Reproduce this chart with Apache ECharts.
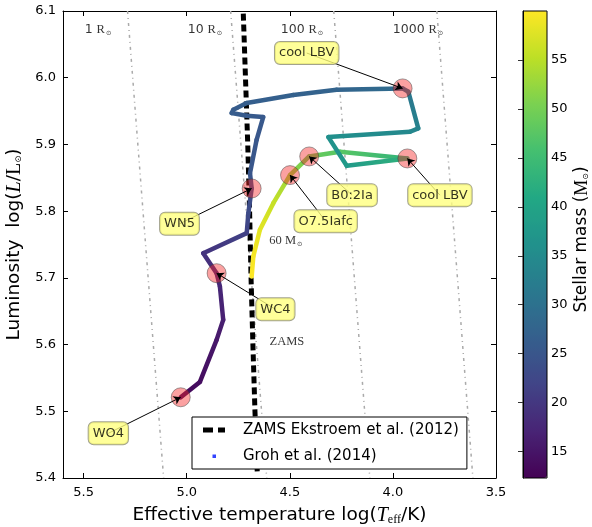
<!DOCTYPE html>
<html>
<head>
<meta charset="utf-8">
<script src="https://cdn.jsdelivr.net/npm/echarts@6.0.0/dist/echarts.min.js"></script>
<style>
  html, body { margin: 0; padding: 0; background: #fff; }
  #chart { width: 592px; height: 527px; }
</style>
</head>
<body>
<div id="chart"></div>
<script>
// evolutionary track of the 60 Msun model (Groh et al. 2014)
var trackLogT = [4.685, 4.677, 4.645, 4.580, 4.499, 4.406, 4.257, 3.930, 4.224, 4.313, 3.917, 3.877, 3.925, 3.953,
    4.273, 4.483, 4.709, 4.774, 4.782, 4.709, 4.629, 4.661, 4.693, 4.685, 4.701, 4.709, 4.920, 4.855, 4.839, 4.823, 4.855, 4.936, 5.029]
var trackLogL = [5.702, 5.732, 5.772, 5.812, 5.854, 5.882, 5.889, 5.879, 5.868, 5.911, 5.919, 5.924, 5.979, 5.984,
    5.982, 5.974, 5.962, 5.952, 5.947, 5.943, 5.941, 5.907, 5.857, 5.834, 5.797, 5.767, 5.737, 5.707, 5.687, 5.637, 5.607, 5.544, 5.521]
var trackMass = [60, 59.5, 58, 56, 52.5, 49, 47.5, 43, 38, 36, 34.5, 33.5, 31, 29,
    27.5, 27, 26.5, 26, 26, 25.8, 25.5, 25.2, 25, 24, 23, 21.5, 19.5, 18, 17.5, 16.5, 15.5, 14, 13]

// ZAMS (Ekstroem et al. 2012)
var zamsLogL = [5.41, 5.5, 5.6, 5.7, 5.8, 5.9, 6.0, 6.1]
var zamsLogT = [4.658, 4.669, 4.679, 4.688, 4.695, 4.704, 4.715, 4.726]

// constant radius lines
var radNames = ['1', '10', '100', '1000']
var radTopT = [5.287, 4.787, 4.287, 3.787]     // at log L = 6.1
var radBottomT = [5.112, 4.612, 4.112, 3.612]  // at log L = 5.4
var radLabelT = [5.430, 4.911, 4.441, 3.878]
var radLabelL = 6.0715

// spectral type annotations
var annoText = ['cool LBV', 'B0:2Ia', 'cool LBV', 'O7.5Iafc', 'WN5', 'WC4', 'WO4']
var annoBoxT = [4.418, 4.198, 3.772, 4.326, 5.035, 4.570, 5.380]
var annoBoxL = [6.037, 5.824, 5.824, 5.785, 5.781, 5.653, 5.467]
var starT = [3.953, 4.406, 3.930, 4.499, 4.685, 4.855, 5.029]
var starL = [5.984, 5.882, 5.879, 5.854, 5.834, 5.707, 5.521]

var xTicks = [3.5, 4.0, 4.5, 5.0, 5.5]
var massTicks = [15, 20, 25, 30, 35, 40, 45, 50, 55]
var massMin = 12.3, massMax = 60

var viridis = ['#440154', '#482475', '#414487', '#355f8d', '#2a788e', '#21918c',
    '#22a884', '#44bf70', '#7ad151', '#bddf26', '#fde725']

var massColor = function (m) {
    var t = (m - massMin) / (massMax - massMin)
    return echarts.color.lerp(Math.max(0, Math.min(1, t)), viridis)
}

var segs = []
for (var i = 0; i < trackLogT.length - 1; i++) {
    segs.push([trackLogT[i], trackLogL[i], trackLogT[i + 1], trackLogL[i + 1],
        (trackMass[i] + trackMass[i + 1]) / 2, trackMass[i], trackMass[i + 1]])
}

var serif = 'Liberation Serif'
var sans = 'DejaVu Sans'

var series = []
radNames.forEach(function (r, k) {
    series.push({
        type: 'line',
        name: 'R' + r,
        xAxisIndex: 0, yAxisIndex: 0,
        data: [[radTopT[k], 6.1], [radBottomT[k], 5.4]],
        showSymbol: false,
        silent: true,
        lineStyle: { color: '#aaaaaa', width: 1.5, type: [3, 4, 1, 4] },
        z: 1
    })
})
series.push({
    type: 'line',
    name: 'ZAMS Ekstroem et al. (2012)',
    data: zamsLogT.map(function (t, k) { return [t, zamsLogL[k]] }),
    showSymbol: false,
    lineStyle: { color: '#000', width: 5, type: [7, 4] },
    itemStyle: { color: '#000' },
    z: 2
})
var trackIndex = series.length
series.push({
    type: 'custom',
    name: 'Groh et al. (2014)',
    data: segs,
    encode: { x: [0, 2], y: [1, 3] },
    renderItem: function (params, api) {
        var p1 = api.coord([api.value(0), api.value(1)])
        var p2 = api.coord([api.value(2), api.value(3)])
        var grad = new echarts.graphic.LinearGradient(p1[0], p1[1], p2[0] + 0.01, p2[1] + 0.01, [
            { offset: 0, color: massColor(api.value(5)) },
            { offset: 1, color: massColor(api.value(6)) }
        ], true)
        return {
            type: 'line',
            shape: { x1: p1[0], y1: p1[1], x2: p2[0], y2: p2[1] },
            style: { stroke: grad, lineWidth: 4.5, lineCap: 'round' }
        }
    },
    z: 3
})
series.push({
    type: 'scatter',
    name: 'stars',
    data: starT.map(function (t, k) { return [t, starL[k]] }),
    symbolSize: 19,
    itemStyle: { color: 'rgba(245, 40, 40, 0.55)', borderColor: 'rgba(60, 60, 60, 0.6)', borderWidth: 1 },
    z: 4
})
series.push({
    type: 'lines',
    name: 'arrows',
    coordinateSystem: 'cartesian2d',
    data: annoBoxT.map(function (t, k) { return { coords: [[t, annoBoxL[k]], [starT[k], starL[k]]] } }),
    symbol: ['none', 'arrow'],
    symbolSize: [0, 7],
    lineStyle: { color: '#000', width: 1, opacity: 1 },
    silent: true,
    z: 5
})
series.push({
    type: 'scatter',
    name: 'boxes',
    data: annoBoxT.map(function (t, k) { return { value: [t, annoBoxL[k]], name: annoText[k] } }),
    symbolSize: 1,
    itemStyle: { color: 'transparent' },
    label: {
        show: true,
        position: 'inside',
        formatter: '{b}',
        fontFamily: sans,
        fontSize: 13,
        color: '#000',
        backgroundColor: '#ffff80',
        borderColor: '#8c8c70',
        borderWidth: 1,
        borderRadius: 5,
        padding: [5, 4, 4, 4]
    },
    z: 6
})
series.push({
    type: 'scatter',
    name: 'texts',
    data: radLabelT.map(function (t, k) {
        return { value: [t, radLabelL], label: { formatter: '{d|' + radNames[k] + '} {n|R}{s|⊙}' } }
    }).concat([
        { value: [4.519, 5.755], label: { formatter: '{n|60 M}{s|⊙}' } },
        { value: [4.514, 5.604], label: { formatter: '{n|ZAMS}' } }
    ]),
    symbolSize: 1,
    itemStyle: { color: 'transparent' },
    label: {
        show: true,
        position: 'inside',
        rich: {
            d: { fontFamily: sans, fontSize: 12.5, color: '#000' },
            n: { fontFamily: serif, fontSize: 12.5, color: '#000' },
            s: { fontFamily: sans, fontSize: 6.5, color: '#000', padding: [7, 0, 0, 1] }
        }
    },
    z: 6
})

var axisBlack = { lineStyle: { color: '#000', width: 1 } }
var chart = echarts.init(document.getElementById('chart'))
chart.setOption({
    animation: false,
    textStyle: { fontFamily: sans },
    grid: [
        { left: 63, right: 96, top: 11, bottom: 49, outerBoundsMode: 'none' },
        { left: 523, right: 45, top: 11, bottom: 49, outerBoundsMode: 'none', show: true, borderColor: '#000', borderWidth: 1, backgroundColor: 'transparent', z: 10 }
    ],
    xAxis: [{
        gridIndex: 0, type: 'value', min: 3.5, max: 5.6, inverse: true, position: 'bottom',
        axisLine: axisBlack,
        axisTick: { inside: true, length: 5, customValues: xTicks, lineStyle: { color: '#000' } },
        axisLabel: { customValues: xTicks, formatter: function (v) { return v.toFixed(1) }, fontSize: 13, color: '#000', margin: 8 },
        splitLine: { show: false },
        name: 'Effective temperature log({i|T}{s|eff}/K)',
        nameLocation: 'middle',
        nameGap: 27,
        nameTextStyle: {
            fontSize: 18.5, color: '#000',
            rich: {
                i: { fontFamily: serif, fontStyle: 'italic', fontSize: 20, color: '#000' },
                s: { fontFamily: serif, fontSize: 12, color: '#000', padding: [9, 0, 0, 0] }
            }
        }
    }, {
        gridIndex: 0, type: 'value', min: 3.5, max: 5.6, inverse: true, position: 'top',
        axisLine: axisBlack,
        axisTick: { inside: true, length: 5, customValues: xTicks, lineStyle: { color: '#000' } },
        axisLabel: { show: false },
        splitLine: { show: false }
    }, {
        gridIndex: 1, type: 'value', min: 0, max: 1, show: false
    }],
    yAxis: [{
        gridIndex: 0, type: 'value', min: 5.4, max: 6.1, interval: 0.1, position: 'left',
        axisLine: axisBlack,
        axisTick: { inside: true, length: 5, lineStyle: { color: '#000' } },
        axisLabel: { formatter: function (v) { return v.toFixed(1) }, fontSize: 13, color: '#000', margin: 7 },
        splitLine: { show: false },
        name: 'Luminosity  log({i|L}/{r|L}{s|⊙})',
        nameLocation: 'middle',
        nameRotate: 90,
        nameGap: 35,
        nameTextStyle: {
            fontSize: 18.5, color: '#000',
            rich: {
                i: { fontFamily: serif, fontStyle: 'italic', fontSize: 20, color: '#000' },
                r: { fontFamily: serif, fontSize: 20, color: '#000' },
                s: { fontSize: 8.5, color: '#000', padding: [9, 0, 0, 0] }
            }
        }
    }, {
        gridIndex: 0, type: 'value', min: 5.4, max: 6.1, interval: 0.1, position: 'right',
        axisLine: axisBlack,
        axisTick: { inside: true, length: 5, lineStyle: { color: '#000' } },
        axisLabel: { show: false },
        splitLine: { show: false }
    }, {
        gridIndex: 1, type: 'value', min: massMin, max: massMax, position: 'right',
        axisLine: axisBlack,
        axisTick: { inside: true, length: 5, customValues: massTicks, lineStyle: { color: '#333' } },
        axisLabel: { customValues: massTicks, fontSize: 13, color: '#000', margin: 4 },
        splitLine: { show: false },
        name: 'Stellar mass ({n|M}{s|⊙})',
        nameLocation: 'middle',
        nameRotate: 90,
        nameGap: 26,
        nameTextStyle: {
            fontSize: 17, color: '#000', padding: [0, 0, 0, 10],
            rich: {
                n: { fontFamily: serif, fontSize: 18, color: '#000' },
                s: { fontSize: 8, color: '#000', padding: [8, 0, 0, 0] }
            }
        },
        z: 10
    }],
    visualMap: {
        type: 'continuous',
        seriesIndex: trackIndex,
        dimension: 4,
        min: massMin,
        max: massMax,
        calculable: false,
        text: null,
        showLabel: false,
        left: 523,
        top: 11,
        padding: 0,
        itemWidth: 24,
        itemHeight: 467,
        inRange: { color: viridis },
        hoverLink: false
    },
    legend: {
        orient: 'vertical',
        left: 192,
        top: 417,
        padding: [5, 8, 5, 11],
        itemWidth: 35,
        itemHeight: 14,
        itemGap: 10,
        backgroundColor: '#fff',
        borderColor: '#000',
        borderWidth: 1,
        borderRadius: 0,
        textStyle: { fontSize: 15, color: '#000', lineHeight: 16 },
        data: [
            { name: 'ZAMS Ekstroem et al. (2012)', icon: 'path://M0,0L0,0M35,14L35,14M0,4.5h10v5h-10zM15,4.5h7v5h-7z', itemStyle: { color: '#000' } },
            { name: 'Groh et al. (2014)', icon: 'path://M0,0L0,0M35,14L35,14M9.5,5.5h3.5v3.5h-3.5z', itemStyle: { color: '#3344ff' } }
        ],
        selectedMode: false
    },
    series: series
})
</script>
</body>
</html>
